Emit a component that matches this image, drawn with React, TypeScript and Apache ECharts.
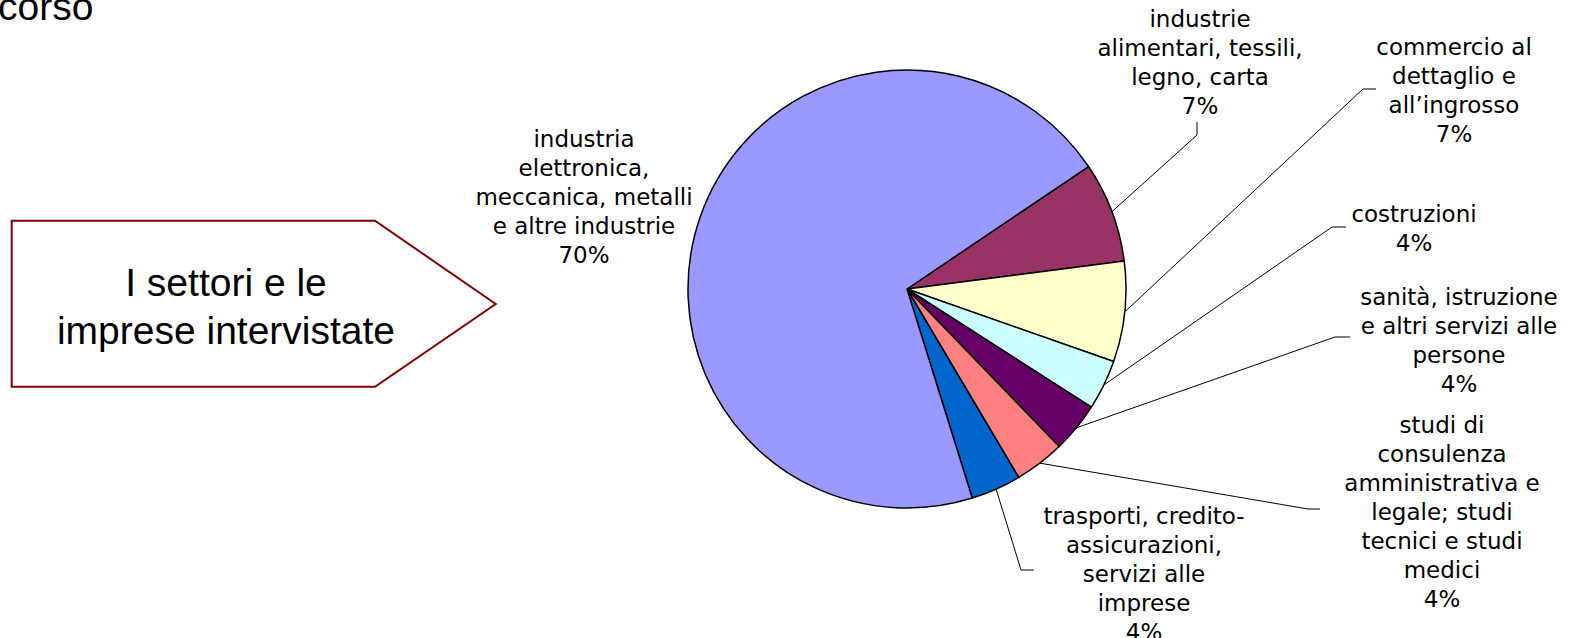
import React, { useEffect, useRef } from "react";
import * as echarts from "echarts";

// Sectors (line breaks as in the original labels)
const categories: string[] = [
  "industrie\nalimentari, tessili,\nlegno, carta",
  "commercio al\ndettaglio e\nall\u2019ingrosso",
  "costruzioni",
  "sanità, istruzione\ne altri servizi alle\npersone",
  "studi di\nconsulenza\namministrativa e\nlegale; studi\ntecnici e studi\nmedici",
  "trasporti, credito-\nassicurazioni,\nservizi alle\nimprese",
  "industria\nelettronica,\nmeccanica, metalli\ne altre industrie",
];

// Number of interviewed firms per sector (70%, 7%, 7%, 4%... of 27)
const counts: number[] = [2, 2, 1, 1, 1, 1, 19];

const sliceColors: string[] = [
  "#993366",
  "#FFFFCC",
  "#CCFFFF",
  "#660066",
  "#FF8080",
  "#0066CC",
  "#9999FF",
];

// label centre x, y, then leader-line elbow x, y and end x, y
const labelPlacement: number[][] = [
  [1200, 62, 1197, 135, 1197, 122],
  [1454, 90, 1363, 89, 1376, 89],
  [1414, 228, 1332, 227, 1346, 227],
  [1459, 340, 1335, 337, 1350, 337],
  [1442, 512, 1308, 509, 1320, 509],
  [1144, 574, 1021, 570, 1034, 570],
  [584, 197],
];

const boxTitle = "I settori e le\nimprese intervistate";
const topFragment = "corso";

export default function App() {
  const ref = useRef<HTMLDivElement>(null);

  useEffect(() => {
    if (!ref.current) return;
    const chart = echarts.init(ref.current, null, { renderer: "svg" });

    const data = categories.map((name, i) => ({
      name,
      value: counts[i],
      itemStyle: { color: sliceColors[i] },
      labelLine: { show: labelPlacement[i].length > 2 },
    }));

    chart.setOption({
      animation: false,
      backgroundColor: "#ffffff",
      graphic: [
        {
          type: "polygon",
          shape: {
            points: [
              [11.7, 220.7],
              [375, 220.7],
              [495.7, 304],
              [375, 386.7],
              [11.7, 386.7],
            ],
          },
          style: { fill: "#ffffff", stroke: "#800000", lineWidth: 2 },
        },
        {
          type: "text",
          x: 226,
          y: 306,
          style: {
            text: boxTitle,
            fill: "#000000",
            fontSize: 39,
            fontFamily: "Liberation Sans",
            lineHeight: 48,
            align: "center",
            verticalAlign: "middle",
          },
        },
        {
          type: "text",
          x: -2,
          y: 6,
          style: {
            text: topFragment,
            fill: "#000000",
            fontSize: 39,
            fontFamily: "Liberation Sans",
            align: "left",
            verticalAlign: "middle",
          },
        },
      ],
      series: [
        {
          type: "pie",
          center: [907, 289],
          radius: 219,
          startAngle: 34,
          clockwise: true,
          avoidLabelOverlap: false,
          percentPrecision: 0,
          data,
          itemStyle: { borderColor: "#000000", borderWidth: 1.5 },
          label: {
            show: true,
            position: "outside",
            overflow: "none",
            formatter: "{b}\n{d}%",
            color: "#000000",
            fontSize: 23,
            fontFamily: "DejaVu Sans",
            lineHeight: 29,
            align: "center",
          },
          labelLine: {
            show: true,
            lineStyle: { color: "#000000", width: 1 },
          },
          emphasis: { disabled: true },
          labelLayout: (params: any) => {
            const p = labelPlacement[params.dataIndex];
            const out: any = {
              x: p[0],
              y: p[1],
              align: "center",
              verticalAlign: "middle",
            };
            if (p.length > 2 && params.labelLinePoints && params.labelLinePoints.length) {
              const start = params.labelLinePoints[0];
              out.labelLinePoints = [start, [p[2], p[3]], [p[4], p[5]]];
            }
            return out;
          },
        },
      ],
    });

    return () => chart.dispose();
  }, []);

  return (
    <div
      ref={ref}
      style={{ position: "absolute", left: 0, top: 0, width: 1581, height: 638 }}
    />
  );
}
